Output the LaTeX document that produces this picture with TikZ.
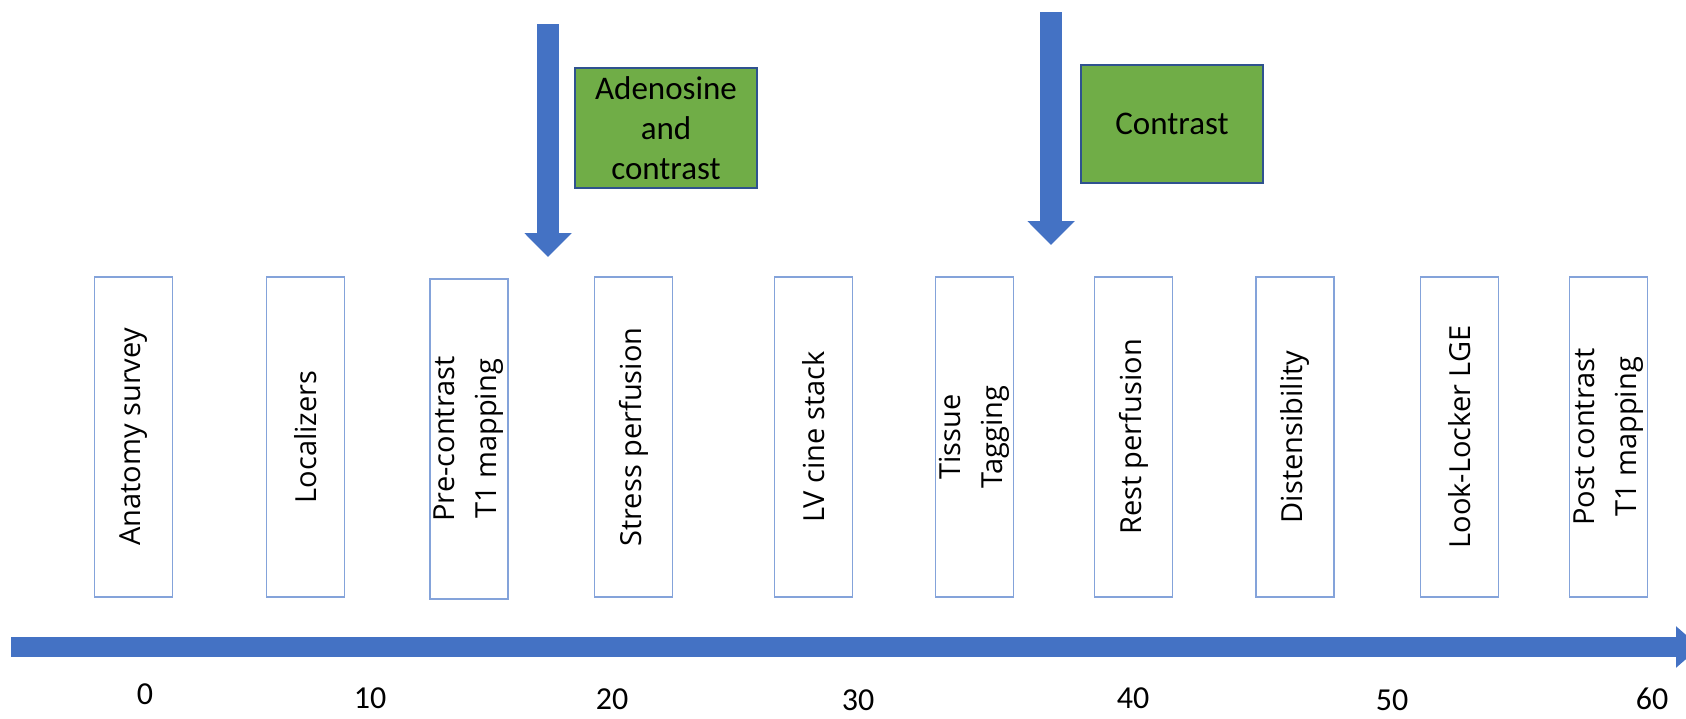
\documentclass[tikz,border=0pt]{standalone}
\usepackage{fontspec}
\setmainfont{Carlito}
\newfontfamily\scanfont{Open Sans}
\usetikzlibrary{arrows.meta}
\definecolor{arrowblue}{RGB}{68,114,196}
\definecolor{boxblue}{RGB}{132,163,218}
\definecolor{druggreen}{RGB}{112,173,71}
\definecolor{edgeblue}{RGB}{47,82,143}

\begin{document}
\begin{tikzpicture}[x=1pt,y=-1pt,
    scanbox/.style={draw=boxblue, line width=1.6pt, rotate=90, minimum width=320pt, minimum height=78pt,
        inner sep=0pt, align=center, font=\scanfont\fontsize{29}{42}\selectfont},
    agentbox/.style={draw=edgeblue, line width=1.5pt, fill=druggreen, minimum width=182pt, minimum height=120pt,
        inner sep=0pt, align=center, font=\fontsize{33}{40}\selectfont},
    bolus/.style={arrowblue, line width=22pt, -{Triangle[length=24pt,width=46pt]}},
    ticklabel/.style={inner sep=0pt, font=\fontsize{32}{38}\selectfont}]
    \useasboundingbox (0,0) rectangle (1686,718);
    % timeline
    \coordinate (tstart) at (11,647);
    \coordinate (tend) at (1700,647);
    \draw[arrowblue, line width=20pt, -{Triangle[length=24pt,width=40pt]}] (tstart) -- (tend);
    \foreach \t/\x/\y in {0/145/694, 10/370/698, 20/612/699, 30/858/700, 40/1133/698, 50/1392/700, 60/1652/699} {
        \node[ticklabel] (tick\t) at (\x,\y) {\t};
    }
    % scan blocks
    \foreach \x/\y/\txt [count=\i] in {133.5/437/Anatomy survey, 305.5/437/Localizers, 469/439/{Pre-contrast\\T1 mapping},
        633.5/437/Stress perfusion, 813.5/437/LV cine stack, 974.5/437/{Tissue\\Tagging}, 1133.5/437/Rest perfusion,
        1295/437/Distensibility, 1459.5/437/Look-Locker LGE, 1608.5/437/{Post contrast\\T1 mapping}} {
        \node[scanbox] (scan\i) at (\x,\y) {\txt};
    }
    % injections
    \coordinate (stresstop) at (548,24);
    \coordinate (stresstip) at (548,257);
    \draw[bolus] (stresstop) -- (stresstip);
    \node[agentbox] (adenosine) at (666,128) {Adenosine\\and\\contrast};
    \coordinate (resttop) at (1051,12);
    \coordinate (resttip) at (1051,245);
    \draw[bolus] (resttop) -- (resttip);
    \node[agentbox, minimum height=118pt] (contrast) at (1172,124) {Contrast};
\end{tikzpicture}
\end{document}
